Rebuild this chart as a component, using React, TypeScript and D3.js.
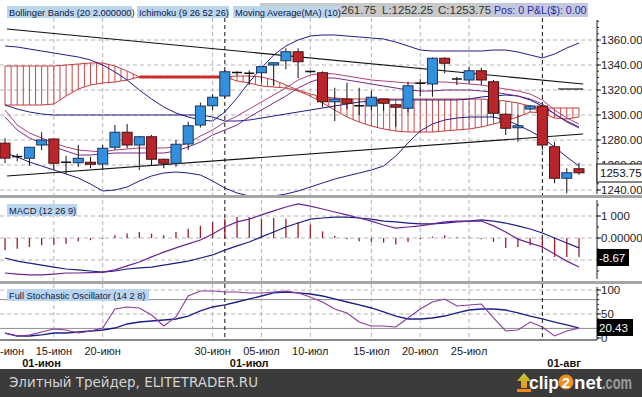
import React from 'react';
import * as d3 from 'd3';

// O, H, L, C per session
const candles = [
  [1277.5, 1281.5, 1261.5, 1265.5], [1266.5, 1269, 1263, 1266.75], [1265.4, 1274.5, 1259.4, 1274.2],
  [1276, 1286.2, 1272, 1280], [1280.8, 1281, 1256, 1261.4], [1262, 1267.4, 1252.8, 1262.2],
  [1261.8, 1276, 1258.6, 1265.4], [1262.2, 1266.6, 1257.4, 1260.6], [1260.8, 1276, 1256, 1273.4],
  [1274.2, 1292, 1272, 1286.2], [1286.2, 1292.8, 1273.4, 1276], [1276, 1283, 1256, 1282.6],
  [1282.6, 1284, 1260, 1264.6], [1264.6, 1265, 1257.4, 1261.4], [1261.4, 1280, 1258.6, 1276.6],
  [1276.8, 1294.6, 1272, 1291.4], [1292, 1310, 1290, 1307.2], [1307.4, 1316.8, 1304, 1314.2],
  [1315.2, 1336, 1313.6, 1334.6], [1333.8, 1335, 1331.5, 1334], [1333.4, 1335.5, 1324, 1333.2],
  [1333.8, 1339.2, 1326.6, 1338.7], [1340, 1342.4, 1324, 1341.8], [1343.4, 1353.4, 1336.6, 1350.6],
  [1350.6, 1353.4, 1329.4, 1342.6], [1334.6, 1335.5, 1333.4, 1334.8], [1333.8, 1335, 1306.2, 1310.6],
  [1310.6, 1321.8, 1295.2, 1312.8], [1312.8, 1325.8, 1304.6, 1309.4], [1307.2, 1321.8, 1300, 1307.4],
  [1307.2, 1319.4, 1304, 1314.2], [1312.8, 1313, 1303.4, 1309.4], [1308.2, 1309, 1290.6, 1306.2],
  [1305.4, 1326.6, 1301.8, 1323.4], [1325.2, 1328.6, 1315.2, 1325.4], [1324.8, 1346.2, 1314.6, 1345.4],
  [1345.4, 1346.2, 1333.4, 1341.4], [1328.6, 1330.6, 1324, 1328.8], [1328, 1338.6, 1325.4, 1335.4],
  [1335.4, 1337.8, 1324, 1328], [1326.6, 1328, 1297.4, 1301.4], [1300.6, 1301.6, 1284, 1289.4],
  [1289.8, 1300, 1278.6, 1291.4], [1304.8, 1308, 1304, 1307.2], [1307.2, 1308, 1272, 1276],
  [1274.6, 1278.6, 1245.4, 1249.4], [1249.4, 1257.4, 1237.4, 1253.8], [1257, 1261.75, 1252.25, 1253.75],
];

const bbUpper = [1355.2, 1354.4, 1352.8, 1351.2, 1349.6, 1348, 1346.4, 1344, 1340, 1334.4, 1328, 1320, 1312.8, 1306.4, 1301.6, 1298.4, 1296, 1295.2, 1302.4, 1313.6, 1326.4, 1337.6, 1348, 1355.2, 1360, 1363.2, 1364, 1364, 1363.2, 1362.4, 1361.6, 1360.8, 1358.4, 1355.2, 1352, 1351.2, 1351.2, 1351.2, 1351.2, 1351.2, 1352, 1352, 1350.4, 1348, 1345.6, 1348.8, 1353.6, 1357.6];
const bbMid = [1308, 1304.8, 1302.4, 1300.8, 1300, 1300, 1300, 1300, 1300, 1300, 1300, 1300, 1300, 1300, 1300, 1300, 1300, 1298.4, 1295.2, 1295.2, 1296, 1297.6, 1299.2, 1300.8, 1302.4, 1304, 1305.6, 1307.2, 1308.8, 1310.4, 1311.2, 1312, 1312, 1312, 1312, 1312, 1312, 1312, 1312.8, 1314.4, 1315.2, 1316, 1315.2, 1312, 1307.2, 1300.8, 1295.2, 1290.4];
const bbLower = [1269.6, 1266.4, 1262.4, 1259.2, 1256, 1252.8, 1249.6, 1244.8, 1239.2, 1240, 1242.4, 1247.2, 1251.2, 1253.6, 1254.4, 1253.6, 1252, 1247.2, 1241.6, 1237.6, 1235.2, 1234.4, 1235.2, 1236.8, 1239.2, 1242.4, 1245.6, 1248.8, 1251.2, 1253.6, 1256, 1259.2, 1267.2, 1277.6, 1287.2, 1292.8, 1296, 1297.6, 1298.4, 1298.4, 1298.4, 1296, 1292, 1287.2, 1281.6, 1274.4, 1266.4, 1259.2];

const maFast = [1304, 1292, 1285.6, 1281.6, 1277.6, 1274.4, 1272, 1271.2, 1270.4, 1272, 1272.8, 1273.6, 1273.6, 1273.6, 1274.4, 1277.6, 1283.2, 1288, 1294.4, 1299.2, 1304.8, 1310.4, 1316, 1321.6, 1328, 1332, 1333.6, 1332.8, 1331.2, 1329.6, 1328, 1327.2, 1326.4, 1325.6, 1325.6, 1326.4, 1326.4, 1325.6, 1324.8, 1324, 1322.4, 1320.8, 1319.2, 1316.8, 1312, 1304, 1297.6, 1292.8];
const maSlow = [1298.4, 1288, 1281.6, 1277.6, 1274.4, 1271.2, 1268, 1268, 1268.8, 1269.6, 1269.6, 1269.6, 1269.6, 1269.6, 1271.2, 1274.4, 1278.4, 1284, 1288, 1292, 1298.4, 1304, 1309.6, 1315.2, 1321.6, 1326.4, 1329.6, 1329.6, 1328, 1326.4, 1324.8, 1323.2, 1321.6, 1320, 1319.2, 1319.2, 1320, 1320, 1320, 1319.2, 1318.4, 1316.8, 1315.2, 1312.8, 1308.8, 1300.8, 1294.4, 1289.6];

const spanA = [1339.2, 1339.2, 1339.2, 1339.2, 1339.2, 1340, 1340.8, 1341.6, 1341.6, 1339.2, 1335.2, 1330.4, 1330.4, 1330.4, 1330.4, 1330.4, 1330.4, 1330.4, 1330.4, 1331.2, 1331.2, 1330.4, 1328, 1324, 1320, 1316.8, 1314.4, 1313.6, 1312.8, 1312.8, 1312.8, 1312.8, 1312.8, 1312.8, 1312.8, 1312.8, 1312.8, 1312.8, 1312.8, 1312.8, 1312, 1311.2, 1309.6, 1307.2, 1305.6, 1305.6, 1305.6, 1305.6];
const spanB = [1308, 1308, 1308, 1308, 1308.8, 1315.2, 1320.8, 1324, 1325.6, 1326.4, 1328, 1330.4, 1330.4, 1330.4, 1330.4, 1330.4, 1330.4, 1330.4, 1330.4, 1327.2, 1325.6, 1323.2, 1322.4, 1321.6, 1319.2, 1315.2, 1309.6, 1304, 1298.4, 1294.4, 1291.2, 1288.8, 1287.2, 1286.4, 1286.4, 1286.4, 1287.2, 1288, 1288.8, 1290.4, 1292.8, 1295.2, 1298.4, 1302.4, 1301.6, 1297.6, 1296.8, 1298.4];

// user trend lines: [index0, price0, index1, price1]
const trendLines = [
  [0.16, 1368.8, 47.34, 1324.8],
  [0.16, 1251.2, 47.34, 1284.8],
  [45.3, 1320.8, 47.34, 1320.8],
];

const macdLine = [-15.9, -16.4, -16.8, -16.8, -16.4, -15.9, -15.9, -15.7, -15.5, -14.5, -12.7, -10.9, -8.6, -6.4, -4.5, -2.7, -0.9, 1.8, 5.0, 7.3, 8.6, 10.5, 12.3, 14.1, 15.5, 14.5, 13.2, 11.8, 10.5, 9.1, 7.7, 5.9, 4.5, 5.0, 5.5, 6.4, 7.3, 7.7, 7.7, 7.7, 5.5, 2.7, -0.5, -2.3, -4.1, -7.3, -10.5, -13.2];
const macdSignal = [-9.1, -10.5, -11.4, -12.3, -13.2, -14.1, -14.5, -15.0, -15.5, -15.0, -14.1, -13.6, -13.2, -12.3, -11.4, -10.5, -9.1, -7.7, -5.5, -3.6, -1.8, 0.5, 2.7, 5.0, 6.8, 8.6, 9.1, 9.5, 9.5, 9.1, 8.6, 7.7, 7.3, 6.8, 6.4, 6.4, 6.8, 7.3, 7.7, 8.2, 7.7, 6.8, 5.5, 4.1, 2.3, 0.0, -2.3, -4.5];
const macdHist = [-5.6, -4.9, -4.1, -3.3, -3.0, -2.6, -1.5, -1.0, -0.3, 1.2, 2.0, 2.7, 2.0, 1.2, 2.7, 4.2, 5.5, 7.3, 8.8, 9.5, 9.5, 8.8, 9.1, 8.8, 7.3, 6.0, 3.0, 0.9, -0.6, -1.5, -1.8, -2.1, -3.0, -1.8, -0.6, 0.6, 1.2, 0.3, 0.2, -0.6, -1.8, -4.5, -4.1, -3.3, -4.9, -8.6, -8.6, -8.67];

const stochK = [10.4, 4.2, 6, 12.5, 18.8, 16.7, 10.4, 14.6, 20.8, 60.4, 64.6, 62.5, 47.9, 25, 43.8, 87.5, 97.9, 97.9, 95.8, 95.8, 93.8, 93.8, 95.8, 97.9, 93.8, 85.4, 75, 60.4, 52.1, 33.3, 25, 25, 22.9, 41.7, 60.4, 75, 81.3, 66.7, 68.8, 70.8, 41.7, 14.6, 16.7, 33.3, 22.9, 4.2, 14.6, 20.43];
const stochD = [10.4, 4.2, 4.2, 6.3, 10.4, 10.4, 12.5, 14.6, 16.7, 20.8, 29.2, 33.3, 35.4, 37.5, 39.6, 45.8, 56.3, 64.6, 68.8, 75, 81.3, 87.5, 93.8, 95.8, 93.8, 91.7, 87.5, 81.3, 75, 68.8, 62.5, 54.2, 45.8, 39.6, 39.6, 41.7, 45.8, 52.1, 58.3, 60.4, 60.4, 58.3, 52.1, 45.8, 39.6, 33.3, 27.1, 20.8];

// first label is cut by the left edge in the source, only "-июн" shows
const dayTicks = [
  { i: 0, label: '-июн' }, { i: 4, label: '15-июн' }, { i: 8, label: '20-июн' },
  { i: 17, label: '30-июн' }, { i: 21, label: '05-июл' }, { i: 25, label: '10-июл' },
  { i: 30, label: '15-июл' }, { i: 34, label: '20-июл' }, { i: 38, label: '25-июл' },
];
const monthTicks = [{ i: 1, label: '01-июн' }, { i: 18, label: '01-июл' }, { i: 44, label: '01-авг' }];
const monthLines = [18, 44];
const priceTicks = [1240, 1260, 1280, 1300, 1320, 1340, 1360];

const FONT = '"Liberation Sans", Arial, sans-serif';
const UP = '#3390dc';
const DOWN = '#b8262b';
const NAVY = '#1e1e8a';

const x = d3.scaleLinear().domain([0, 47]).range([5, 579]);
const yP = d3.scaleLinear().domain([1240, 1360]).range([190, 40]);
const yM = d3.scaleLinear().domain([-10, 10]).range([260, 216]);
const yS = d3.scaleLinear().domain([0, 100]).range([338, 290]);
const AX = 597;

const lineP = d3.line<number>().x((_, i) => x(i)).y(d => yP(d));
const lineM = d3.line<number>().x((_, i) => x(i)).y(d => yM(d));
const lineS = d3.line<number>().x((_, i) => x(i)).y(d => yS(d));

function Cloud() {
  const hatch = [];
  for (let k = 0; k <= 94; k++) {
    const i0 = Math.floor(k / 2), i1 = Math.min(47, i0 + (k % 2));
    const a = (spanA[i0] + spanA[i1]) / 2, b = (spanB[i0] + spanB[i1]) / 2;
    if (Math.abs(a - b) < 0.6) continue;
    hatch.push(<line key={k} x1={x(k / 2)} x2={x(k / 2)} y1={yP(a)} y2={yP(b)} stroke="#c84848" strokeWidth={1} />);
  }
  const flat = [];
  for (let i = 0; i < 47; i++) {
    if (Math.abs(spanA[i] - spanB[i]) < 0.5 && Math.abs(spanA[i + 1] - spanB[i + 1]) < 0.5) {
      flat.push(<line key={i} x1={x(i)} x2={x(i + 1)} y1={yP(spanA[i])} y2={yP(spanA[i + 1])} stroke="#cc2a2a" strokeWidth={3} />);
    }
  }
  return (
    <g>
      {hatch}
      <path d={lineP(spanA) || ''} fill="none" stroke="#c83c3c" strokeWidth={1} />
      <path d={lineP(spanB) || ''} fill="none" stroke="#c83c3c" strokeWidth={1} />
      {flat}
    </g>
  );
}

function Candles() {
  return (
    <g>
      {candles.map(([o, h, l, c], i) => {
        const cx = x(i);
        const doji = Math.abs(c - o) < 0.3;
        const up = c >= o;
        const top = yP(Math.max(o, c)), bot = yP(Math.min(o, c));
        return (
          <g key={i}>
            <line x1={cx} x2={cx} y1={yP(h)} y2={yP(l)} stroke="#111" strokeWidth={1} />
            {doji ? (
              <line x1={cx - 5} x2={cx + 5} y1={top} y2={top} stroke="#111" strokeWidth={1.5} />
            ) : (
              <rect x={cx - 5} y={top} width={10} height={Math.max(1, bot - top)}
                fill={up ? UP : DOWN} stroke={up ? '#1c3560' : '#4a1010'} strokeWidth={1} />
            )}
          </g>
        );
      })}
    </g>
  );
}

function RightAxis({ y0, y1, scale, majors, minorStep, fmt }: any) {
  const [d0, d1] = [scale.invert(y1), scale.invert(y0)];
  const minors = d3.range(Math.ceil(d0 / minorStep) * minorStep, d1, minorStep);
  return (
    <g>
      <line x1={AX} x2={AX} y1={y0} y2={y1} stroke="#222" />
      {minors.map((v: number) => (
        <line key={'m' + v} x1={AX} x2={AX + 2} y1={scale(v)} y2={scale(v)} stroke="#222" />
      ))}
      {majors.map((v: number) => (
        <g key={v}>
          <line x1={AX} x2={AX + 4} y1={scale(v)} y2={scale(v)} stroke="#222" />
          <text x={AX + 4} y={scale(v) + 4} fontSize={11.5} fontFamily={FONT} fill="#222">{fmt(v)}</text>
        </g>
      ))}
    </g>
  );
}

function Legend({ x0, y0, w, text }: any) {
  return (
    <g>
      <rect x={x0} y={y0} width={w} height={12} fill="#bcd5ef" />
      <text x={x0 + 2} y={y0 + 9.5} fontSize={9.3} fontFamily={FONT} fill="#101a40">{text}</text>
    </g>
  );
}

export default function App() {
  const grid = '#b4b4b4';
  return (
    <svg width={642} height={397} style={{ position: 'fixed', left: 0, top: 0, background: '#fff' }}>
      <defs>
        <clipPath id="cp"><rect x={0} y={0} width={AX} height={195} /></clipPath>
        <clipPath id="cm"><rect x={0} y={199} width={AX} height={82} /></clipPath>
        <clipPath id="cs"><rect x={0} y={285} width={AX} height={55} /></clipPath>
        <linearGradient id="arr" x1="0" y1="0" x2="0" y2="1">
          <stop offset="0" stopColor="#b8d430" />
          <stop offset="1" stopColor="#f0901c" />
        </linearGradient>
      </defs>
      <rect width={642} height={397} fill="#fff" />

      {/* horizontal grids */}
      {priceTicks.map(v => (
        <line key={v} x1={0} x2={AX} y1={yP(v)} y2={yP(v)} stroke={grid} strokeDasharray="4,3" />
      ))}
      {[10, 0, -10].map(v => (
        <line key={v} x1={0} x2={AX} y1={yM(v)} y2={yM(v)} stroke={grid} strokeDasharray="4,3" />
      ))}
      {[100, 50].map(v => (
        <line key={v} x1={0} x2={AX} y1={yS(v)} y2={yS(v)} stroke={grid} strokeDasharray="4,3" />
      ))}
      {[80, 20].map(v => (
        <line key={v} x1={0} x2={AX} y1={yS(v)} y2={yS(v)} stroke="#8c8c8c" />
      ))}

      {/* vertical grids */}
      {dayTicks.filter(t => t.i > 0).map(t => (
        <line key={t.i} x1={x(t.i)} x2={x(t.i)} y1={18} y2={340} stroke={grid} strokeDasharray="4,3" />
      ))}
      {monthLines.map(i => (
        <line key={i} x1={x(i)} x2={x(i)} y1={18} y2={340} stroke="#111" strokeDasharray="4,3" />
      ))}

      {/* price panel */}
      <g clipPath="url(#cp)">
        <Cloud />
        <path d={lineP(bbUpper) || ''} fill="none" stroke={NAVY} strokeWidth={1} />
        <path d={lineP(bbMid) || ''} fill="none" stroke={NAVY} strokeWidth={1} />
        <path d={lineP(bbLower) || ''} fill="none" stroke={NAVY} strokeWidth={1} />
        <path d={lineP(maFast) || ''} fill="none" stroke="#b0407c" strokeWidth={1} />
        <path d={lineP(maSlow) || ''} fill="none" stroke="#762a8c" strokeWidth={1} />
        {trendLines.map(([i0, p0, i1, p1], k) => (
          <line key={k} x1={x(i0)} y1={yP(p0)} x2={x(i1)} y2={yP(p1)} stroke="#111" strokeWidth={1.2} />
        ))}
        <Candles />
      </g>

      {/* MACD panel */}
      <g clipPath="url(#cm)">
        {macdHist.map((v, i) => (
          <line key={i} x1={x(i)} x2={x(i)} y1={yM(0)} y2={yM(v)} stroke="#9a1f2a" strokeWidth={1.3} />
        ))}
        <path d={lineM(macdSignal) || ''} fill="none" stroke={NAVY} strokeWidth={1.2} />
        <path d={lineM(macdLine) || ''} fill="none" stroke="#6e2490" strokeWidth={1.2} />
      </g>

      {/* Stochastic panel */}
      <g clipPath="url(#cs)">
        <path d={lineS(stochD) || ''} fill="none" stroke={NAVY} strokeWidth={1.3} />
        <path d={lineS(stochK) || ''} fill="none" stroke="#8a3a9c" strokeWidth={1.1} />
      </g>
      <line x1={0} x2={AX} y1={340} y2={340} stroke="#111" strokeWidth={1.2} />

      {/* panel separators */}
      <rect x={0} y={195} width={642} height={3} fill="#a6a6a6" />
      <rect x={0} y={281} width={642} height={3} fill="#a6a6a6" />

      {/* right axes */}
      <RightAxis y0={20} y1={194} scale={yP} majors={priceTicks} minorStep={5} fmt={(v: number) => v.toFixed(2)} />
      <RightAxis y0={200} y1={279} scale={yM} majors={[]} minorStep={5} fmt={(v: number) => v} />
      <text x={AX + 4} y={yM(10) + 4} fontSize={11.5} fontFamily={FONT} fill="#222">1 000</text>
      <text x={AX + 4} y={yM(0) + 4} fontSize={11.5} fontFamily={FONT} fill="#222">0.00000</text>
      <line x1={AX} x2={AX + 4} y1={yM(10)} y2={yM(10)} stroke="#222" />
      <line x1={AX} x2={AX + 4} y1={yM(0)} y2={yM(0)} stroke="#222" />
      <RightAxis y0={287} y1={340} scale={yS} majors={[100, 50, 0]} minorStep={10} fmt={(v: number) => v} />

      {/* value boxes */}
      <rect x={AX} y={164} width={46} height={18} fill="#fff" stroke="#111" />
      <text x={AX + 3} y={177} fontSize={11.5} fontFamily={FONT} fill="#111">{candles[47][3].toFixed(2)}</text>
      <rect x={AX} y={249} width={32} height={17} fill="#000" />
      <text x={AX + 2} y={262} fontSize={11.5} fontFamily={FONT} fill="#fff">{macdHist[47].toFixed(2)}</text>
      <rect x={AX} y={319} width={36} height={17} fill="#000" />
      <text x={AX + 2} y={332} fontSize={11.5} fontFamily={FONT} fill="#fff">{stochK[47].toFixed(2)}</text>

      {/* top info strip */}
      <rect x={260} y={3} width={328} height={14} fill="#c9c9c9" />
      <rect x={490} y={3} width={98} height={14} fill="#c4c8de" />
      <text x={341} y={14} fontSize={11.5} fontFamily={FONT} fill="#333">261.75</text>
      <text x={382} y={14} fontSize={11.5} fontFamily={FONT} fill="#333">L:1252.25</text>
      <text x={438} y={14} fontSize={11.5} fontFamily={FONT} fill="#333">C:1253.75</text>
      <text x={494} y={14} fontSize={10.6} fontFamily={FONT} fill="#2a2aa8">Pos: 0 P&amp;L($): 0.00</text>
      <Legend x0={7} y0={6} w={125} text="Bollinger Bands (20 2.000000)" />
      <Legend x0={137} y0={6} w={92} text="Ichimoku (9 26 52 26)" />
      <Legend x0={233} y0={6} w={107} text="Moving Average(MA) (10)" />
      <Legend x0={7} y0={204} w={70} text="MACD (12 26 9)" />
      <Legend x0={7} y0={289} w={142} text="Full Stochastic Oscillator (14 2 8)" />

      {/* x axis labels */}
      {dayTicks.map(t => (
        <text key={t.i} x={t.i === 0 ? 0 : x(t.i)} y={355} textAnchor={t.i === 0 ? 'start' : 'middle'}
          fontSize={11} fontFamily={FONT} fill="#222">{t.label}</text>
      ))}
      {monthTicks.map(t => (
        <text key={t.i} x={x(t.i) + 5} y={367} fontSize={11} fontWeight="bold" fontFamily={FONT} fill="#111">{t.label}</text>
      ))}

      {/* footer */}
      <rect x={0} y={369} width={642} height={28} fill="#3b3b3b" />
      <text x={9} y={387} fontSize={14} fontFamily='"DejaVu Sans", sans-serif' fill="#d4d4d4" textLength={249} lengthAdjust="spacingAndGlyphs">Элитный Трейдер, ELITETRADER.RU</text>
      <path d="M524,373 L531,381 L527,381 L527,388 L521,388 L521,381 L517,381 Z" fill="url(#arr)" />
      <rect x={517} y={389} width={14} height={3} fill="#f08a1a" />
      <text x={529} y={389} fontSize={19} fontWeight="bold" fontFamily={FONT} fill="#fff" textLength={30} lengthAdjust="spacingAndGlyphs">clip</text>
      <circle cx={566} cy={382} r={7.5} fill="#f0901c" />
      <text x={566} y={388} textAnchor="middle" fontSize={15} fontWeight="bold" fontFamily={FONT} fill="#fff">2</text>
      <text x={574} y={389} fontSize={19} fontWeight="bold" fontFamily={FONT} fill="#fff" textLength={28} lengthAdjust="spacingAndGlyphs">net</text>
      <text x={602} y={389} fontSize={18} fontWeight="bold" fontFamily={FONT} fill="#9c9c9c" textLength={30} lengthAdjust="spacingAndGlyphs">.com</text>
    </svg>
  );
}
